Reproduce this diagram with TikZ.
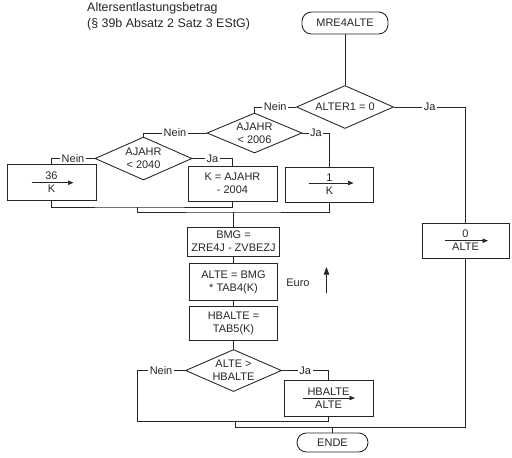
\documentclass[tikz,border=0pt]{standalone}
\usepackage{fontspec}
\setmainfont{Liberation Sans}
\usepackage{tikz}
\usetikzlibrary{positioning,arrows.meta,shapes.geometric}
\definecolor{FlowInk}{HTML}{262626}

\begin{document}
\begin{tikzpicture}[
  x=0.032cm, y=-0.032cm,
  color=FlowInk,
  font=\fontsize{10}{12}\selectfont,
  proc/.style={draw, line width=0.8pt, minimum width=2.816cm, minimum height=1.12cm, align=center, inner sep=1pt},
  test/.style={draw, line width=0.8pt, diamond, aspect=2.2, inner sep=0pt, align=center},
  term/.style={draw, line width=0.8pt, rounded corners=0.3cm, align=center},
  lbl/.style={fill=white, inner sep=1.5pt},
  link/.style={line width=0.7pt},
  assign/.style={-{Triangle[length=5pt,width=4pt]}, line width=0.6pt},
]
\useasboundingbox (0,0) rectangle (512,457);

\node[anchor=west, align=left, inner sep=0pt, font=\fontsize{11.3}{14.5}\selectfont] (title) at (87,16) {Altersentlastungsbetrag\\(§ 39b Absatz 2 Satz 3 EStG)};

\node[term, minimum width=2.752cm, minimum height=0.704cm] (start) at (345,23) {MRE4ALTE};
\node[test, minimum width=3.104cm, minimum height=1.376cm] (d1) at (345,107) {ALTER1 = 0};
\node[test, minimum width=3.04cm, minimum height=1.28cm] (d2) at (254.5,133) {AJAHR\\< 2006};
\node[test, minimum width=3.104cm, minimum height=1.376cm] (d3) at (143.5,158.5) {AJAHR\\< 2040};
\node[proc, minimum width=2.848cm, minimum height=1.152cm] (b36) at (51.5,182) {36\\K};
\node[proc, minimum width=2.848cm] (bK) at (232.5,183.5) {K = AJAHR\\- 2004};
\node[proc] (b1) at (329.5,184.5) {1\\K};
\node[proc, minimum width=2.784cm] (b0) at (465.5,240.5) {0\\ALTE};

\node[proc, minimum width=2.944cm, minimum height=0.928cm] (bmg) at (233.5,241.5) {BMG =\\ZRE4J - ZVBEZJ};
\node[proc, minimum height=1.184cm, below=0.22cm of bmg] (alte) {ALTE = BMG\\* TAB4(K)};
\node[proc, minimum height=1.088cm, below=0.16cm of alte] (hbalte) {HBALTE =\\TAB5(K)};
\node[test, minimum width=3.072cm, minimum height=1.344cm, below=0.256cm of hbalte] (d4) {ALTE >\\HBALTE};
\node[proc, minimum width=2.848cm, minimum height=1.152cm] (bhb) at (328.5,398) {HBALTE\\ALTE};
\node[term, minimum width=2.272cm, minimum height=0.608cm] (ende) at (332.5,442.5) {ENDE};

\node (euro) at (298,283) {Euro};
\draw[-{Triangle[length=7pt,width=5pt]}, line width=0.6pt] (euro.east) ++(13,10) -- ++(0,-26);

% zuweisungspfeile
\draw[assign] (b36.center) ++(-20,0.7) -- ++(42,0);
\draw[assign] (b1.center) ++(-21,-1.5) -- ++(45,0);
\draw[assign] (b0.center) ++(-20.5,0.2) -- ++(43,0);
\draw[assign] (bhb.center) ++(-25.5,0) -- ++(52,0);

% verzweigungen
\draw[link] (start) -- (d1);
\draw[link] (d1.west) -| node[lbl, pos=0.25] {Nein} (d2.north);
\draw[link] (d1.east) -| node[lbl, pos=0.25] {Ja} (b0.north);
\draw[link] (d2.west) -| node[lbl, pos=0.25] {Nein} (d3.north);
\draw[link] (d2.east) -| node[lbl, pos=0.25] {Ja} (b1.north);
\draw[link] (d3.west) -| node[lbl, pos=0.25] {Nein} (b36.north);
\draw[link] (d3.east) -| node[lbl, pos=0.25] {Ja} (bK.north);

% zusammenfuehrungen
\coordinate (j1) at (137,207);
\coordinate (j2) at (bmg.north |- 0,212);
\draw[link] (b36.south) |- (j1) -| (bK.south);
\draw[link] (j1) |- (j2) -| (b1.south);
\draw[link] (j2) -- (bmg.north);
\draw[link] (bmg) -- (alte);
\draw[link] (alte) -- (hbalte);
\draw[link] (hbalte) -- (d4);

\coordinate (j3) at (235,421);
\coordinate (j4) at (ende.north |- 0,427);
\draw[link] (d4.west) -- node[lbl] {Nein} ++(-48,0) |- (j3) -| (bhb.south);
\draw[link] (d4.east) -| node[lbl, pos=0.25] {Ja} (bhb.north);
\draw[link] (j3) |- (j4) -- (ende.north);
\draw[link] (b0.south) |- (j4);
\end{tikzpicture}
\end{document}
